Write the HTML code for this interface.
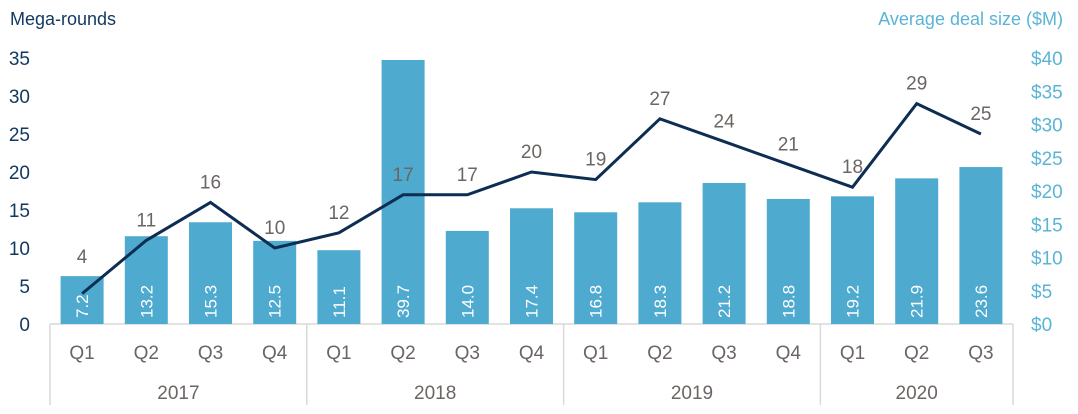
<!DOCTYPE html>
<html><head><meta charset="utf-8"><style>
html,body{margin:0;padding:0;background:#fff;}
svg{display:block;font-family:"Liberation Sans Narrow","Liberation Sans",sans-serif;}
</style></head><body>
<svg id="chart" width="1078" height="414" viewBox="0 0 1078 414">
<text x="10" y="25" font-size="18" fill="#12385f">Mega-rounds</text>
<text x="1063" y="25" font-size="18" fill="#5ab4d6" text-anchor="end">Average deal size ($M)</text>
<g id="g"></g>
</svg>
<script>
const quarters=["Q1","Q2","Q3","Q4","Q1","Q2","Q3","Q4","Q1","Q2","Q3","Q4","Q1","Q2","Q3"];
const years=["2017","2018","2019","2020"];
const yearCounts=[4,4,4,3];
const dealSize=[7.2,13.2,15.3,12.5,11.1,39.7,14.0,17.4,16.8,18.3,21.2,18.8,19.2,21.9,23.6];
const megaRounds=[4,11,16,10,12,17,17,20,19,27,24,21,18,29,25];
const leftTicks=[0,5,10,15,20,25,30,35];
const rightTicks=[0,5,10,15,20,25,30,35,40];

const NS="http://www.w3.org/2000/svg";
const g=document.getElementById('g');
const x0=50,x1=1013,base=324,yTop=58;
const step=(x1-x0)/quarters.length;
const xC=i=>x0+step*(i+0.5);
const yL=v=>base-(base-yTop)*v/35;
const yR=v=>base-(base-yTop)*v/40;
function el(t,a,txt){const e=document.createElementNS(NS,t);for(const k in a)e.setAttribute(k,a[k]);if(txt!==undefined)e.textContent=txt;g.appendChild(e);return e;}

leftTicks.forEach(v=>{
  const t=el('text',{x:30,y:yL(v)+7,'font-size':19,fill:'#12385f','text-anchor':'end'},String(v));
  
  
});
rightTicks.forEach(v=>{
  const t=el('text',{x:1031,y:yR(v)+7,'font-size':19,fill:'#5ab4d6'},'$'+v);
  
  
});
const ax=el('line',{x1:x0,x2:x1,y1:base,y2:base,stroke:'#d9d9d9','stroke-width':1.5});



dealSize.forEach((v,i)=>{
  const y=yR(v);
  const r=el('rect',{x:xC(i)-21.5,y:y,width:43,height:base-y,fill:'#4eaacf'});
  
  
  const cx=xC(i)+6,cy=base-6;
  const t=el('text',{x:cx,y:cy,'font-size':17,fill:'#fff',transform:`rotate(-90 ${cx} ${cy})`},v.toFixed(1));
  
  
});

const pts=megaRounds.map((v,i)=>xC(i)+','+yL(v)).join(' ');
const pl=el('polyline',{points:pts,fill:'none',stroke:'#0d2d52','stroke-width':3});


megaRounds.forEach((v,i)=>{
  const py=yL(v), bt=yR(dealSize[i]);
  let c=py-21;
  if(bt<c+10 && bt>py-60) c=bt-20;
  const t=el('text',{x:xC(i),y:c+7,'font-size':19,fill:'#6b6563','text-anchor':'middle'},String(v));
  
  
});

quarters.forEach((q,i)=>{
  const t=el('text',{x:xC(i),y:359,'font-size':19,fill:'#6b6563','text-anchor':'middle'},q);
  
  
});
let s=0;
const sep0=el('line',{x1:x0,x2:x0,y1:base,y2:405,stroke:'#d9d9d9','stroke-width':1.5});


years.forEach((yr,k)=>{
  const e=s+yearCounts[k];
  const t=el('text',{x:(x0+step*s+x0+step*e)/2,y:399,'font-size':19,fill:'#6b6563','text-anchor':'middle'},yr);
  
  
  const ln=el('line',{x1:x0+step*e,x2:x0+step*e,y1:base,y2:405,stroke:'#d9d9d9','stroke-width':1.5});
  
  
  s=e;
});
</script>
</body></html>
